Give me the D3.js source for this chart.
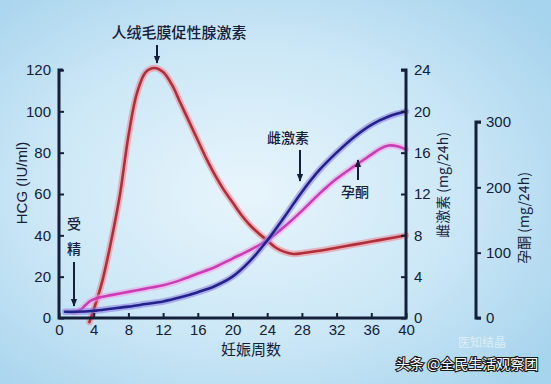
<!DOCTYPE html>
<html><head><meta charset="utf-8">
<script src="https://cdn.jsdelivr.net/npm/d3@7"></script>
<style>html,body{margin:0;padding:0;overflow:hidden;}svg{display:block;}</style>
</head><body>
<script>
// ---- data ----
const weekTicks = [0,4,8,12,16,20,24,28,32,36,40];
const hcgTicks = [0,20,40,60,80,100,120];
const estTicks = [0,4,8,12,16,20,24];
const progTicks = [0,100,200,300];

const hcgWeeks  = [3.5,4,5,6,7,8,9,10,11,12,13,14,15,16,17,18,19,20,21,22,23,24,25,26,27,28,30,32,34,36,38,40];
const hcgValues = [-2,4,18,37,59,88,109,119,121,119,113,104,95,86,77,69,62,56,50,45,41,37.5,34,32,31,31.3,32.5,34,35.5,37,38.5,40];

const estWeeks  = [0.7,2,4,6,8,10,12,14,16,18,20,22,24,26,28,30,32,34,36,38,40];
const estValues = [0.6,0.6,0.7,0.9,1.1,1.35,1.6,2.0,2.5,3.1,4.0,5.5,7.5,9.8,12.2,14.3,16.0,17.5,18.7,19.5,20.0];

const progWeeks  = [1.8,2.5,3,3.6,4.5,6,8,10,12,14,16,18,20,22,24,26,28,30,32,34,36,37,38,39,40];
const progValues = [9,13,19,26,31,35,40,45,50,58,68,78,91,104,119,140,164,190,213,232,250,259,264,263,258];

// ---- layout ----
const W = 551, H = 384;
const svg = d3.select("body").append("svg").attr("width", W).attr("height", H);
const defs = svg.append("defs");
const grad = defs.append("radialGradient").attr("id","bg").attr("cx","45%").attr("cy","50%").attr("r","70%");
grad.append("stop").attr("offset","0%").attr("stop-color","#e8f5fc");
grad.append("stop").attr("offset","55%").attr("stop-color","#cbe7f6");
grad.append("stop").attr("offset","100%").attr("stop-color","#a6d3ed");
svg.append("rect").attr("width",W).attr("height",H).attr("fill","url(#bg)");

const x = d3.scaleLinear().domain([0,40]).range([59,406]);
const yH = d3.scaleLinear().domain([0,120]).range([318,70]);
const yE = d3.scaleLinear().domain([0,24]).range([318,70]);
const yP = d3.scaleLinear().domain([0,300]).range([318,122]);

const ink = "#14203a";
const font = "'Liberation Sans', Arial, sans-serif";
const cjk = "'Noto Sans CJK SC', sans-serif";

// ---- curves ----
function drawCurve(weeks, vals, scale, glow, core) {
  const data = weeks.map((w,i)=>[w, vals[i]]);
  const line = d3.line().x(d=>x(d[0])).y(d=>scale(d[1])).curve(d3.curveCatmullRom.alpha(0.5));
  svg.append("path").attr("d", line(data)).attr("fill","none").attr("stroke",glow)
    .attr("stroke-width",6.5).attr("stroke-opacity",0.55).attr("stroke-linecap","round");
  svg.append("path").attr("d", line(data)).attr("fill","none").attr("stroke",core)
    .attr("stroke-width",2.6).attr("stroke-linecap","round");
}
drawCurve(hcgWeeks, hcgValues, yH, "#f0808c", "#b02e38");
drawCurve(progWeeks, progValues, yP, "#ee9ee4", "#cc3cb4");
drawCurve(estWeeks, estValues, yE, "#8a78e0", "#22228a");

// ---- axes ----
const axStroke = 3;
const gx = svg.append("g").attr("transform","translate(0,318)")
  .call(d3.axisBottom(x).tickValues(weekTicks).tickSize(-5).tickPadding(6));
const gl = svg.append("g").attr("transform","translate(59,0)")
  .call(d3.axisLeft(yH).tickValues(hcgTicks).tickSize(-5).tickPadding(8));
const gr = svg.append("g").attr("transform","translate(406,0)")
  .call(d3.axisRight(yE).tickValues(estTicks).tickSize(-5).tickPadding(8));
const gp = svg.append("g").attr("transform","translate(476,0)")
  .call(d3.axisRight(yP).tickValues(progTicks).tickSize(5).tickPadding(5));

[gx,gl,gr,gp].forEach(g=>{
  g.select(".domain").remove();
  g.selectAll(".tick line").attr("stroke",ink).attr("stroke-width",2);
  g.selectAll(".tick text").attr("fill",ink).attr("font-family",font).attr("font-size",15);
});
svg.append("path").attr("d",`M${x(0)+4},${yH(120)} H${x(0)} V318 H${x(40)} V${yE(24)} H${x(40)-5}`)
  .attr("fill","none").attr("stroke",ink).attr("stroke-width",axStroke);
svg.append("path").attr("d",`M481,${yP(300)} H476 V${yP(0)} H481`)
  .attr("fill","none").attr("stroke",ink).attr("stroke-width",axStroke);

// axis titles
svg.append("text").attr("transform","translate(27,183) rotate(-90)").attr("text-anchor","middle")
  .attr("font-family",font).attr("font-size",15).attr("fill",ink).text("HCG (IU/ml)");
svg.append("text").attr("transform","translate(448,185) rotate(-90)").attr("text-anchor","middle")
  .attr("font-family",cjk).attr("font-size",14).attr("fill",ink).text("雌激素 (mg/24h)");
svg.append("text").attr("transform","translate(529,218) rotate(-90)").attr("text-anchor","middle")
  .attr("font-family",cjk).attr("font-size",14).attr("fill",ink).text("孕酮 (mg/24h)");
svg.append("text").attr("x",251).attr("y",355).attr("text-anchor","middle")
  .attr("font-family",cjk).attr("font-size",15).attr("fill",ink).text("妊娠周数");

// annotations
defs.append("marker").attr("id","ah").attr("viewBox","0 0 10 10").attr("refX",9).attr("refY",5)
  .attr("markerWidth",4).attr("markerHeight",4).attr("orient","auto")
  .append("path").attr("d","M0,1 L10,5 L0,9 Z").attr("fill",ink);
function arrow(x1,y1,x2,y2){
  svg.append("line").attr("x1",x1).attr("y1",y1).attr("x2",x2).attr("y2",y2)
    .attr("stroke",ink).attr("stroke-width",2).attr("marker-end","url(#ah)");
}
function label(t,xx,yy,size){
  svg.append("text").attr("x",xx).attr("y",yy).attr("text-anchor","middle")
    .attr("font-family",cjk).attr("font-size",size||15).attr("font-weight",500).attr("fill",ink).text(t);
}
label("人绒毛膜促性腺激素",179,38,15);
arrow(157,45,157,63);
label("雌激素",288,143,14);
arrow(300,150,300,181);
label("孕酮",355,197,14);
arrow(358,180,358,160);
label("受",74,229,14);
label("精",74,254,14);
arrow(74,262,74,306);

// watermark
svg.append("text").attr("x",482).attr("y",347).attr("text-anchor","middle")
  .attr("font-family",cjk).attr("font-size",12).attr("fill","#ffffff").attr("fill-opacity",0.55)
  .text("医知结晶");
svg.append("text").attr("x",467).attr("y",369).attr("text-anchor","middle")
  .attr("font-family",cjk).attr("font-size",14).attr("fill","#ffffff")
  .attr("stroke","#1a1a1a").attr("stroke-width",2.2).attr("paint-order","stroke")
  .text("头条 @全民生活观察团");
</script>
</body></html>
